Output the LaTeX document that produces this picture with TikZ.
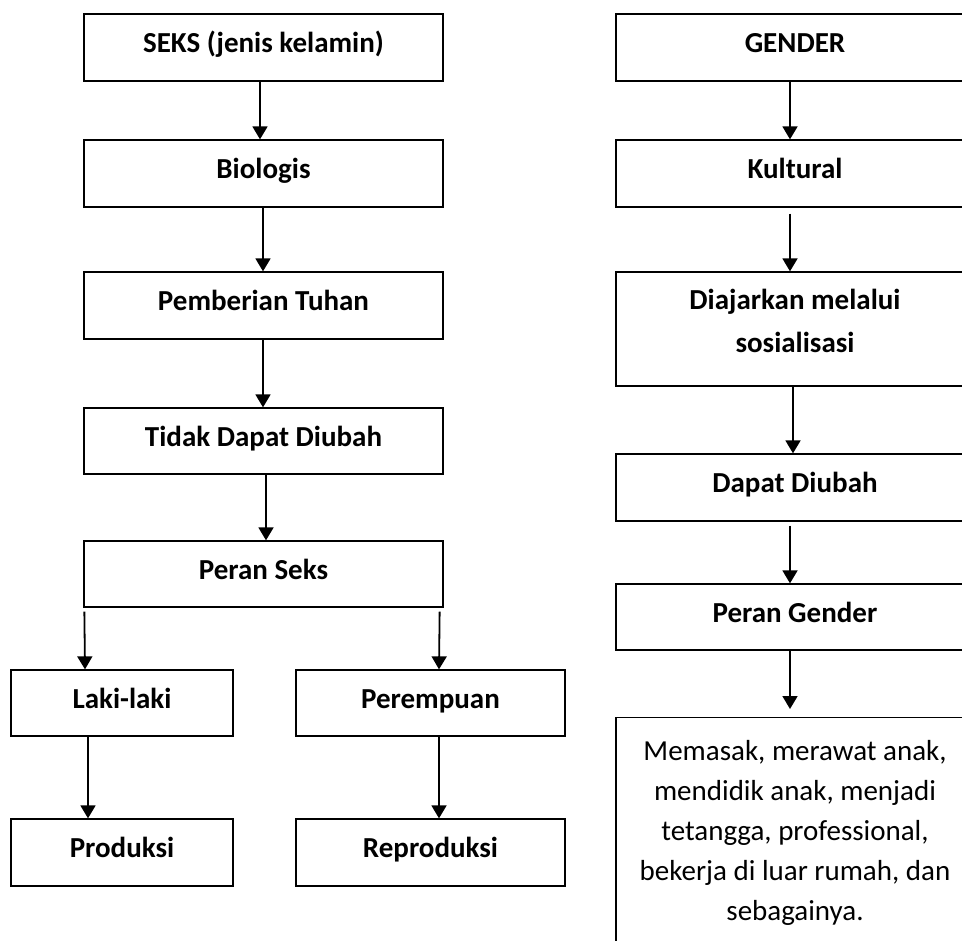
\documentclass[tikz,border=0pt]{standalone}
\usepackage{fontspec}
\setmainfont{Carlito}
\usetikzlibrary{arrows.meta}
\begin{document}
\begin{tikzpicture}[x=1pt,y=-1pt,
  box/.style={draw, line width=1.3pt, font=\fontsize{29}{40}\selectfont\bfseries, text height=18.7pt, text depth=8pt, inner sep=0pt, align=center},
  lbox/.style={box, minimum width=359pt, minimum height=67pt},
  rbox/.style={box, minimum width=358pt, minimum height=67pt},
  arr/.style={-{Triangle[width=15pt,length=13pt]}, line width=1.8pt}]
\useasboundingbox (0,0) rectangle (962,941);
\clip (0,0) rectangle (962,941);
% left column
\node[lbox] (seks) at (263.5,47.5) {SEKS (jenis kelamin)};
\node[lbox] (bio) at (263.5,173.5) {Biologis};
\node[lbox] (pemb) at (263.5,305.5) {Pemberian Tuhan};
\node[lbox, minimum height=66pt] (tidak) at (263.5,441) {Tidak Dapat Diubah};
\node[lbox, minimum height=66pt] (peran) at (263.5,574) {Peran Seks};
\node[box, minimum width=222pt, minimum height=66pt] (laki) at (122,703) {Laki-laki};
\node[box, minimum width=269pt, minimum height=66pt] (perem) at (430.5,703) {Perempuan};
\node[box, minimum width=222pt, minimum height=67pt] (prod) at (122,852.5) {Produksi};
\node[box, minimum width=269pt, minimum height=67pt] (repro) at (430.5,852.5) {Reproduksi};
% right column
\node[rbox] (gender) at (795,47.5) {GENDER};
\node[rbox] (kult) at (795,173.5) {Kultural};
\node[rbox, minimum height=114pt,
  label={[name=diajt, font=\fontsize{29}{43}\selectfont\bfseries, align=center, inner sep=0pt, yshift=8pt]center:{Diajarkan melalui\\sosialisasi}}] (diaj) at (795,329) {};
\node[rbox] (dapat) at (795,487.5) {Dapat Diubah};
\node[rbox, minimum height=66pt] (perang) at (795,617) {Peran Gender};
\node[rbox, anchor=north, minimum height=230pt, font=\fontsize{29}{40}\selectfont, text height=, text depth=] (last) at (795,717) {Memasak, merawat anak,\\mendidik anak, menjadi\\tetangga, professional,\\bekerja di luar rumah, dan\\sebagainya.};
% arrows left
\draw[arr] ([xshift=-3.5pt]seks.south) -- ([xshift=-3.5pt]bio.north);
\draw[arr] ([xshift=-0.5pt]bio.south) -- ([xshift=-0.5pt]pemb.north);
\draw[arr] ([xshift=-0.5pt]pemb.south) -- ([xshift=-0.5pt]tidak.north);
\draw[arr] ([xshift=2.5pt]tidak.south) -- ([xshift=2.5pt]peran.north);
\draw[arr] ([xshift=1pt,yshift=-4pt]peran.south west) -- ([xshift=-37pt]laki.north);
\draw[arr] ([xshift=-4pt,yshift=-4pt]peran.south east) -- ([xshift=8.5pt]perem.north);
\draw[arr] ([xshift=-34pt]laki.south) -- ([xshift=-34pt]prod.north);
\draw[arr] ([xshift=8.5pt]perem.south) -- ([xshift=8.5pt]repro.north);
% arrows right
\draw[arr] ([xshift=-5pt]gender.south) -- ([xshift=-5pt]kult.north);
\draw[arr] ([xshift=-5pt,yshift=-6pt]kult.south) -- ([xshift=-5pt]diaj.north);
\draw[arr] ([xshift=-2pt]diaj.south) -- ([xshift=-2pt]dapat.north);
\draw[arr] ([xshift=-5pt,yshift=-4pt]dapat.south) -- ([xshift=-5pt]perang.north);
\draw[arr] ([xshift=-5pt]perang.south) -- ([xshift=-5pt,yshift=8pt]last.north);
\end{tikzpicture}
\end{document}
